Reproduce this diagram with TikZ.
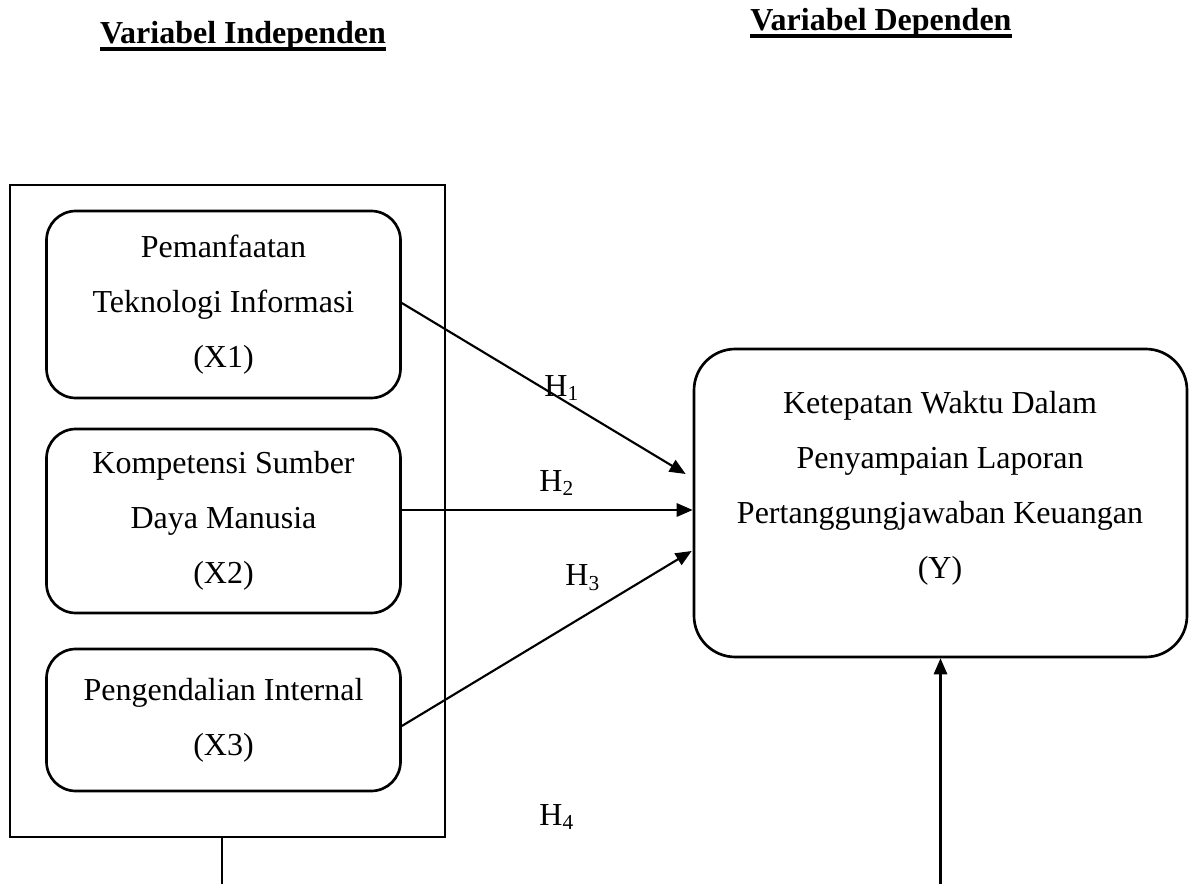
\documentclass[tikz,border=0pt]{standalone}
\usepackage{fontspec}
\setmainfont{Liberation Serif}
\usetikzlibrary{arrows.meta,calc}
\newcommand\ulbold[1]{\setbox0\hbox{\bfseries #1}\rlap{\rule[-2.5pt]{\wd0}{1.2pt}}\box0}
\tikzset{
  every node/.style={font=\fontsize{12pt}{20.625pt}\selectfont},
  xbox/.style={draw, line width=1pt, rounded corners=11pt, minimum width=132.75pt, align=center, inner sep=0pt},
  ybox/.style={draw, line width=1pt, rounded corners=15.5pt, minimum width=184.875pt, minimum height=115.5pt, inner sep=0pt},
  frame/.style={draw, line width=1pt, minimum width=163.125pt, minimum height=244.5pt, inner sep=0pt},
  arr/.style={line width=0.8pt, -{Triangle[length=6pt,width=5pt]}},
  thinline/.style={line width=0.4pt},
  hlab/.style={inner sep=0pt},
  title/.style={inner sep=0pt, anchor=base},
}
\begin{document}
\begin{tikzpicture}[x=0.375pt, y=-0.375pt]
\useasboundingbox (0,0) rectangle (1189,884);

% titles
\node[title] (tind) at (243,44) {\ulbold{Variabel Independen}};
\node[title] (tdep) at (881,31) {\ulbold{Variabel Dependen}};

% outer frame
\node[frame] (outer) at (227.5,511) {};

% independent variables
\node[xbox, minimum height=70.125pt] (X1) at (223.5,304.5) {Pemanfaatan\\Teknologi Informasi\\(X1)};
\node[xbox, minimum height=69pt] (X2) at (223.5,521) {Kompetensi Sumber\\Daya Manusia\\(X2)};
\node[xbox, minimum height=53.25pt] (X3) at (223.5,720) {Pengendalian Internal\\(X3)};

% dependent variable
\node[ybox] (Y) at (940.5,503) {};
\node[align=center, inner sep=0pt] (Ytext) at (940,488) {Ketepatan Waktu Dalam\\Penyampaian Laporan\\Pertanggungjawaban Keuangan\\(Y)};

% free ends
\coordinate (h2) at (0,510);
\coordinate (b4) at (940.5,884);
\coordinate (t4) at (222,884);

% connectors
\draw[arr] ($(X1.east)+(0,-1.5)$) -- ($(Y.west)+(-7,-29)$);
\draw[arr] (X2.east |- h2) -- (Y.west |- h2);
\draw[arr] ($(X3.east)+(0,6)$) -- ($(Y.west)+(-1,48)$);
\draw[arr] (b4) -- (Y.south);
\draw[thinline] (t4 |- outer.south) -- (t4);

% labels
\node[hlab] (H1) at (562,388) {H\textsubscript{1}};
\node[hlab] (H2) at (557,483) {H\textsubscript{2}};
\node[hlab] (H3) at (583,578) {H\textsubscript{3}};
\node[hlab] (H4) at (557,817) {H\textsubscript{4}};
\end{tikzpicture}
\end{document}
